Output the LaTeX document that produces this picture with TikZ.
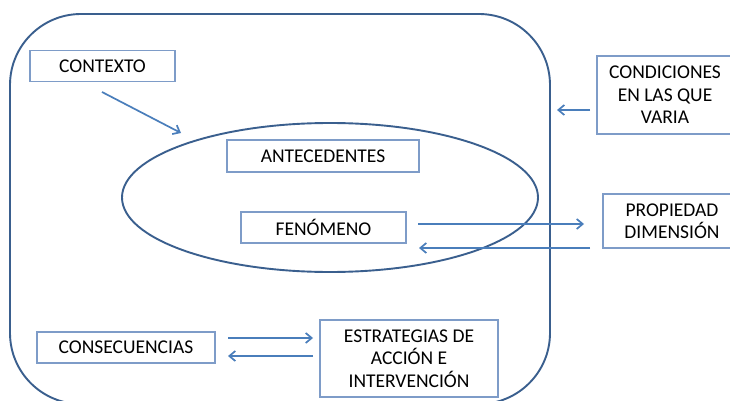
\documentclass[tikz,border=0pt]{standalone}
\usepackage{fontspec}
\setmainfont{Carlito}
\usetikzlibrary{arrows.meta}
\definecolor{boxc}{HTML}{7E9CC8}
\definecolor{arrc}{HTML}{4A7EBB}
\definecolor{bigc}{HTML}{3A5F8E}
\definecolor{txt}{HTML}{000000}
\tikzset{
  lbl/.style={draw=boxc, line width=1.3pt, fill=white, inner sep=0pt, align=center,
    text=txt, font=\fontsize{19.5}{22.5}\selectfont},
  conn/.style={draw=arrc, line width=1.7pt, -{Straight Barb[length=6pt,width=10pt,line width=1.7pt]}},
  outline/.style={draw=bigc, line width=1.9pt}
}
\begin{document}
\begin{tikzpicture}[x=1pt,y=-1pt]
\clip (0,0) rectangle (730,401);
\fill[white] (0,0) rectangle (730,401);
% big rounded frame
\draw[outline, rounded corners=71pt] (10,14) rectangle (550,404);
% ellipse
\draw[outline] (330,197.5) ellipse [x radius=208, y radius=74.5];
% boxes
\node[lbl, minimum width=145pt, minimum height=31pt] (ctx) at (102.5,66) {CONTEXTO};
\node[lbl, minimum width=192pt, minimum height=32pt] (ant) at (323,156) {ANTECEDENTES};
\node[lbl, minimum width=136pt, minimum height=78pt] (cond) at (665,95) {CONDICIONES\\EN LAS QUE\\VARIA};
\node[lbl, minimum width=138pt, minimum height=54pt] (prop) at (672,221) {PROPIEDAD\\DIMENSIÓN};
\node[lbl, minimum width=165pt, minimum height=31pt] (fen) at (323.5,227.5) {FENÓMENO};
\node[lbl, minimum width=178pt, minimum height=31pt] (cons) at (126,347.5) {CONSECUENCIAS};
\node[lbl, minimum width=178pt, minimum height=77pt] (estr) at (409,358.5) {ESTRATEGIAS DE\\ACCIÓN E\\INTERVENCIÓN};
% connector ends
\coordinate (c1) at (102,92);
\coordinate (c2) at (181,133);
\coordinate (d1) at (590,110);
\coordinate (d2) at (557,110);
\coordinate (f1) at (418,224);
\coordinate (f2) at (584,224);
\coordinate (p1) at (590,248);
\coordinate (p2) at (419,248);
\coordinate (s1) at (228,338);
\coordinate (s2) at (313,338);
\coordinate (e1) at (313,356);
\coordinate (e2) at (228,356);
% connectors
\draw[conn] (c1) -- (c2);
\draw[conn] (d1) -- (d2);
\draw[conn] (f1) -- (f2);
\draw[conn] (p1) -- (p2);
\draw[conn] (s1) -- (s2);
\draw[conn] (e1) -- (e2);
\end{tikzpicture}
\end{document}
